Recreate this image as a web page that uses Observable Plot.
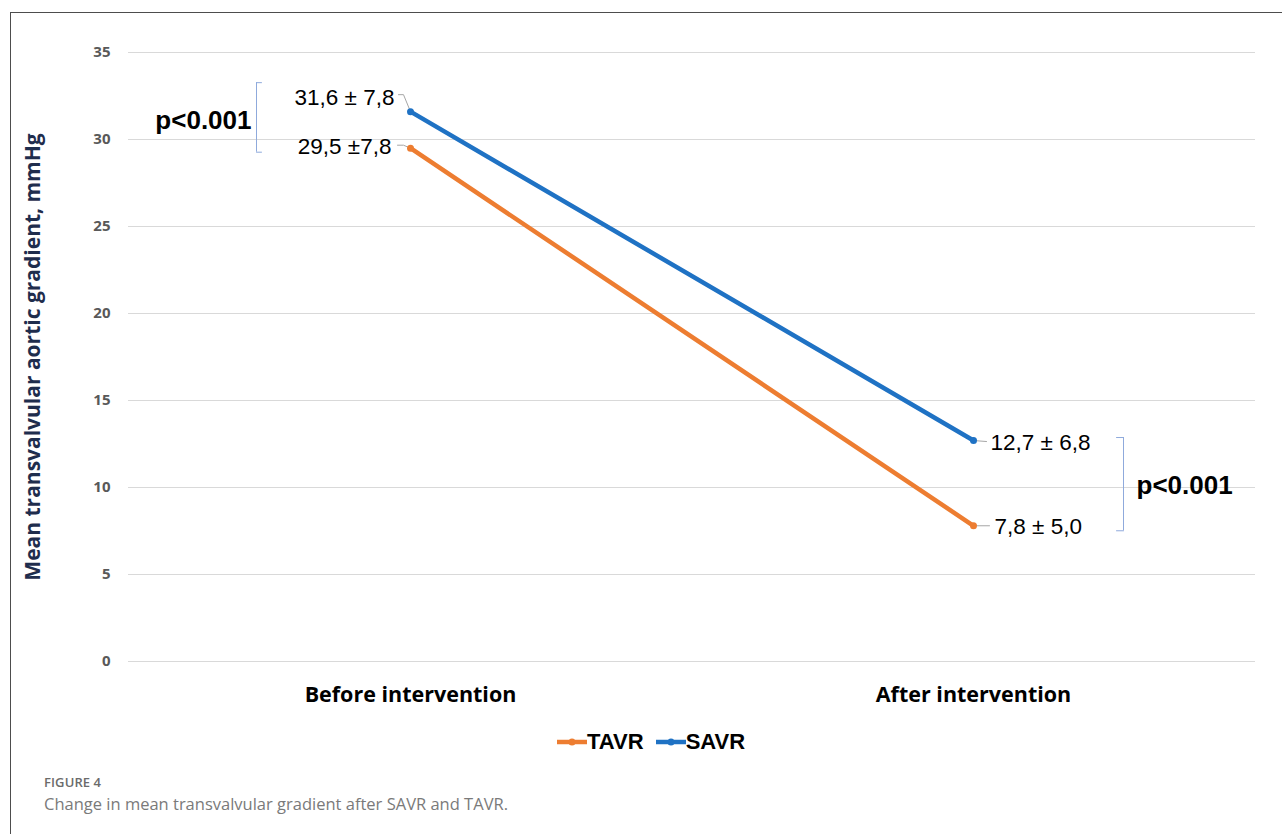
<!DOCTYPE html>
<html><head><meta charset="utf-8">
<script src="https://cdn.jsdelivr.net/npm/d3@7"></script>
<script src="https://cdn.jsdelivr.net/npm/@observablehq/plot@0.6"></script>
<style>
html,body{margin:0;padding:0;background:#fff}
body{width:1282px;height:834px;overflow:hidden;position:relative;font-family:"Open Sans",sans-serif}
#frame{position:absolute;left:10px;top:12px;width:1280px;height:830px;border-left:1.5px solid #4d4d4d;border-top:1.5px solid #4d4d4d;box-sizing:border-box;z-index:10;pointer-events:none}
#chart{position:absolute;left:11px;top:13px}
#legend{position:absolute;left:557px;top:729px;display:flex;align-items:center;height:26px;font-family:"Liberation Sans",Arial,sans-serif;font-weight:700;font-size:22px;color:#000}
#legend .item{display:flex;align-items:center;margin-right:12px}
#legend svg{display:block}
#figno{position:absolute;left:44px;top:773px;font-size:13px;font-weight:600;color:#6b6b6b;letter-spacing:0.1px}
#cap{position:absolute;left:44px;top:792px;font-size:16.5px;font-weight:400;color:#7a7a7a}
</style>
</head><body>
<div id="chart"></div>
<div id="legend"></div>
<div id="figno">FIGURE 4</div>
<div id="cap">Change in mean transvalvular gradient after SAVR and TAVR.</div>
<div id="frame"></div>
<script>
// ---- data ----
const categories = ["Before intervention", "After intervention"];
const seriesNames = ["TAVR", "SAVR"];
const seriesColors = ["#ED7D31", "#1F72C4"];
const tavrValues = [29.5, 7.8];
const savrValues = [31.6, 12.7];
const tavrLabels = ["29,5 \u00B17,8", "7,8 \u00B1 5,0"];
const savrLabels = ["31,6 \u00B1 7,8", "12,7 \u00B1 6,8"];
const pLabels = ["p<0.001", "p<0.001"];
const yTicks = [0, 5, 10, 15, 20, 25, 30, 35];
const yTitle = "Mean transvalvular aortic gradient, mmHg";

// ---- tables ----
const rows = [];
categories.forEach((c, i) => {
  rows.push({series: "TAVR", x: c, y: tavrValues[i], label: tavrLabels[i], idx: i});
  rows.push({series: "SAVR", x: c, y: savrValues[i], label: savrLabels[i], idx: i});
});
const pairs = categories.map((c, i) => ({x: c, hi: savrValues[i], lo: tavrValues[i], mid: (savrValues[i] + tavrValues[i]) / 2, p: pLabels[i], idx: i}));
const pick = (s, i) => rows.filter(d => d.series === s && d.idx === i);

const shape = (fn) => ({draw: fn});
const leaderGray = "#a6a6a6";
const bracketBlue = "#8FAADC";
const valueFont = "'Liberation Sans', Arial, sans-serif";

function vec(data, drawFn, stroke) {
  return Plot.vector(data, {x: "x", y: "y", length: 1, anchor: "start", stroke, strokeWidth: 1, fill: "none", shape: shape(drawFn)});
}

const chart = Plot.plot({
  width: 1271,
  height: 708,
  marginLeft: 117,
  marginRight: 27,
  marginTop: 39,
  marginBottom: 60,
  style: {fontFamily: "'Open Sans', sans-serif", background: "transparent", overflow: "visible"},
  x: {type: "point", domain: categories, padding: 0.5},
  y: {domain: [0, 35]},
  color: {domain: seriesNames, range: seriesColors},
  marks: [
    Plot.gridY({ticks: yTicks, stroke: "#d9d9d9", strokeOpacity: 1, strokeWidth: 1}),
    Plot.axisY({ticks: yTicks, tickSize: 0, tickPadding: 18, fontSize: 15, fontWeight: 700, fill: "#595959", label: null}),
    Plot.axisX({tickSize: 0, tickPadding: 25, fontSize: 21.5, fontWeight: 700, fill: "#000", label: null}),
    Plot.text([yTitle], {frameAnchor: "left", textAnchor: "middle", rotate: -90, dx: -95, text: d => d, fontSize: 21, fontWeight: 700, fill: "#1f2d4d"}),
    // leader lines
    vec(pick("SAVR", 0), (c) => { c.moveTo(-12, -17); c.lineTo(-7, -17); c.lineTo(0, 0); }, leaderGray),
    vec(pick("TAVR", 0), (c) => { c.moveTo(-13, -3); c.lineTo(-7, -3); c.lineTo(0, 0); }, leaderGray),
    vec(pick("SAVR", 1), (c) => { c.moveTo(0, 0); c.lineTo(13, 1); }, leaderGray),
    vec(pick("TAVR", 1), (c) => { c.moveTo(0, 0); c.lineTo(16, 0); }, leaderGray),
    // series
    Plot.line(rows, {x: "x", y: "y", z: "series", stroke: "series", strokeWidth: 4.5}),
    Plot.dot(rows, {x: "x", y: "y", fill: "series", r: 3.5}),
    // value labels
    Plot.text(pick("SAVR", 0), {x: "x", y: "y", text: "label", textAnchor: "end", dx: -16, dy: -14, fontSize: 22.5, fontFamily: valueFont, fill: "#000"}),
    Plot.text(pick("TAVR", 0), {x: "x", y: "y", text: "label", textAnchor: "end", dx: -19, dy: -1, fontSize: 22.5, fontFamily: valueFont, fill: "#000"}),
    Plot.text(pick("SAVR", 1), {x: "x", y: "y", text: "label", textAnchor: "start", dx: 17, dy: 2, fontSize: 22.5, fontFamily: valueFont, fill: "#000"}),
    Plot.text(pick("TAVR", 1), {x: "x", y: "y", text: "label", textAnchor: "start", dx: 21, dy: 1, fontSize: 22.5, fontFamily: valueFont, fill: "#000"}),
    // brackets
    Plot.ruleX(pairs.filter(d => d.idx === 0), {x: "x", y1: "hi", y2: "lo", dx: -154, insetTop: -29, insetBottom: -4, stroke: bracketBlue, strokeWidth: 1}),
    Plot.ruleX(pairs.filter(d => d.idx === 1), {x: "x", y1: "hi", y2: "lo", dx: 150, insetTop: -3, insetBottom: -5, stroke: bracketBlue, strokeWidth: 1}),
    vec(pick("SAVR", 0), (c) => { c.moveTo(-154, -29); c.lineTo(-149, -29); }, bracketBlue),
    vec(pick("TAVR", 0), (c) => { c.moveTo(-154, 4); c.lineTo(-149, 4); }, bracketBlue),
    vec(pick("SAVR", 1), (c) => { c.moveTo(150, -3); c.lineTo(143, -3); }, bracketBlue),
    vec(pick("TAVR", 1), (c) => { c.moveTo(150, 5); c.lineTo(143, 5); }, bracketBlue),
    // p-values
    Plot.text(pairs.filter(d => d.idx === 0), {x: "x", y: "mid", text: "p", textAnchor: "end", dx: -159, dy: -9, fontSize: 26, fontWeight: 700, fontFamily: valueFont, fill: "#000"}),
    Plot.text(pairs.filter(d => d.idx === 1), {x: "x", y: "mid", text: "p", textAnchor: "start", dx: 163, dy: 3, fontSize: 26, fontWeight: 700, fontFamily: valueFont, fill: "#000"})
  ]
});
document.getElementById("chart").appendChild(chart);

// legend
const legend = document.getElementById("legend");
seriesNames.forEach((name, i) => {
  const item = document.createElement("div");
  item.className = "item";
  item.innerHTML = `<svg width="30" height="12"><line x1="0" y1="6" x2="30" y2="6" stroke="${seriesColors[i]}" stroke-width="4.5"/><circle cx="15" cy="6" r="3.5" fill="${seriesColors[i]}"/></svg><span>${name}</span>`;
  legend.appendChild(item);
});
</script>
</body></html>
